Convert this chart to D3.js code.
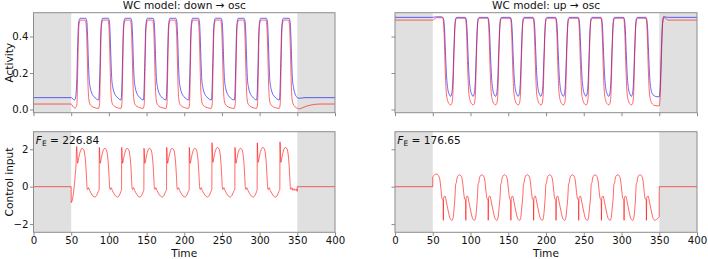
<!DOCTYPE html>
<html><head><meta charset="utf-8">
<script src="https://cdn.jsdelivr.net/npm/d3@7"></script>
<style>body{margin:0;background:#fff;} text{font-family:"DejaVu Sans",sans-serif;fill:#111;}</style>
</head><body><svg id="c" width="708" height="259"></svg>
<script>
const xTicks=[0,50,100,150,200,250,300,350,400];
const activityTicks=[0,0.2,0.4];
const controlTicks=[-2,0,2];
const titles=["WC model: down\u00A0\u2192\u00A0osc","WC model: up\u00A0\u2192\u00A0osc"];
const costs=["226.84","176.65"];
const offWindows=[[0,50],[350,400]];

const downBlue=[[0,.065],[50,.065],[51,.062],[53,.055],[54.5,.052],[56,.07],[57.3,.15],[58.3,.3],[59.3,.44],[60.5,.49],[62,.5],[69.3,.5],[70.8,.48],[71.8,.4],[72.8,.27],[73.8,.17],[75.3,.12],[77.3,.09],[80.3,.07],[83.3,.058],
[86.3,.052],[87.3,.1],[88.3,.25],[89.3,.42],[90.3,.48],[91.8,.5],[99.3,.5],[100.8,.48],[101.8,.4],[102.8,.27],[103.8,.17],[105.3,.12],[107.3,.09],[110.3,.07],[113.3,.058],
[116,.052],[117,.1],[118,.25],[119,.42],[120,.48],[121.5,.5],[129,.5],[130.5,.48],[131.5,.4],[132.5,.27],[133.5,.17],[135,.12],[137,.09],[140,.07],[143,.058],
[145.6,.052],[146.6,.1],[147.6,.25],[148.6,.42],[149.6,.48],[151.1,.5],[158.6,.5],[160.1,.48],[161.1,.4],[162.1,.27],[163.1,.17],[164.6,.12],[166.6,.09],[169.6,.07],[172.6,.058],
[175.7,.052],[176.7,.1],[177.7,.25],[178.7,.42],[179.7,.48],[181.2,.5],[188.7,.5],[190.2,.48],[191.2,.4],[192.2,.27],[193.2,.17],[194.7,.12],[196.7,.09],[199.7,.07],[202.7,.058],
[205.7,.052],[206.7,.1],[207.7,.25],[208.7,.42],[209.7,.48],[211.2,.5],[218.7,.5],[220.2,.48],[221.2,.4],[222.2,.27],[223.2,.17],[224.7,.12],[226.7,.09],[229.7,.07],[232.7,.058],
[235.8,.052],[236.8,.1],[237.8,.25],[238.8,.42],[239.8,.48],[241.3,.5],[248.8,.5],[250.3,.48],[251.3,.4],[252.3,.27],[253.3,.17],[254.8,.12],[256.8,.09],[259.8,.07],[262.8,.058],
[266.3,.052],[267.3,.1],[268.3,.25],[269.3,.42],[270.3,.48],[271.8,.5],[279.3,.5],[280.8,.48],[281.8,.4],[282.8,.27],[283.8,.17],[285.3,.12],[287.3,.09],[290.3,.07],[293.3,.058],
[295.9,.052],[296.9,.1],[297.9,.25],[298.9,.42],[299.9,.48],[301.4,.5],[308.9,.5],[310.4,.48],[311.4,.4],[312.4,.27],[313.4,.17],[314.9,.12],[316.9,.09],[319.9,.07],[322.9,.058],
[326,.052],[327,.1],[328,.25],[329,.42],[330,.48],[331.5,.5],[339,.5],[340.5,.48],[341.5,.4],[342.5,.27],[343.5,.17],[345,.12],[347,.085],[349,.07],[351,.062],[354,.062],[360,.065],[400,.065]];

const downRed=[[0,.03],[50,.03],[51,.025],[53,.013],[55,.008],[56.5,.012],[57.6,.03],[58.6,.2],[59.6,.4],[60.6,.47],[62.3,.49],[68.8,.49],[70.1,.45],[71.3,.3],[72.3,.14],[73.3,.06],[74.8,.03],[77.3,.018],[81.3,.01],
[86.3,.006],[87.6,.03],[88.6,.2],[89.6,.4],[90.6,.47],[92.3,.49],[98.8,.49],[100.1,.45],[101.3,.3],[102.3,.14],[103.3,.06],[104.8,.03],[107.3,.018],[111.3,.01],
[116,.006],[117.3,.03],[118.3,.2],[119.3,.4],[120.3,.47],[122,.49],[128.5,.49],[129.8,.45],[131,.3],[132,.14],[133,.06],[134.5,.03],[137,.018],[141,.01],
[145.6,.006],[146.9,.03],[147.9,.2],[148.9,.4],[149.9,.47],[151.6,.49],[158.1,.49],[159.4,.45],[160.6,.3],[161.6,.14],[162.6,.06],[164.1,.03],[166.6,.018],[170.6,.01],
[175.7,.006],[177,.03],[178,.2],[179,.4],[180,.47],[181.7,.49],[188.2,.49],[189.5,.45],[190.7,.3],[191.7,.14],[192.7,.06],[194.2,.03],[196.7,.018],[200.7,.01],
[205.7,.006],[207,.03],[208,.2],[209,.4],[210,.47],[211.7,.49],[218.2,.49],[219.5,.45],[220.7,.3],[221.7,.14],[222.7,.06],[224.2,.03],[226.7,.018],[230.7,.01],
[235.8,.006],[237.1,.03],[238.1,.2],[239.1,.4],[240.1,.47],[241.8,.49],[248.3,.49],[249.6,.45],[250.8,.3],[251.8,.14],[252.8,.06],[254.3,.03],[256.8,.018],[260.8,.01],
[266.3,.006],[267.6,.03],[268.6,.2],[269.6,.4],[270.6,.47],[272.3,.49],[278.8,.49],[280.1,.45],[281.3,.3],[282.3,.14],[283.3,.06],[284.8,.03],[287.3,.018],[291.3,.01],
[295.9,.006],[297.2,.03],[298.2,.2],[299.2,.4],[300.2,.47],[301.9,.49],[308.4,.49],[309.7,.45],[310.9,.3],[311.9,.14],[312.9,.06],[314.4,.03],[316.9,.018],[320.9,.01],
[326,.006],[327.3,.03],[328.3,.2],[329.3,.4],[330.3,.47],[332,.49],[338.5,.49],[339.8,.45],[341,.3],[342,.14],[343,.06],[344.5,.03],[347,.015],[350,.007],[353,.004],[356,.008],[362,.018],[370,.026],[380,.03],[400,.03]];

const upBlue=[[0,.505],[50,.505],[55,.508],[62,.508],
[64,.5],[65.5,.45],[67,.3],[68.5,.17],[70,.11],[72,.082],[73.5,.072],[75,.085],[76.5,.15],[78,.33],[79.3,.46],[80.5,.5],[82,.505],[92.8,.505],
[93.8,.5],[95.3,.45],[96.8,.3],[98.3,.17],[99.8,.11],[101.8,.082],[103.3,.072],[104.8,.085],[106.3,.15],[107.8,.33],[109.1,.46],[110.3,.5],[111.8,.505],[122.5,.505],
[123.5,.5],[125,.45],[126.5,.3],[128,.17],[129.5,.11],[131.5,.082],[133,.072],[134.5,.085],[136,.15],[137.5,.33],[138.8,.46],[140,.5],[141.5,.505],[152.5,.505],
[153.5,.5],[155,.45],[156.5,.3],[158,.17],[159.5,.11],[161.5,.082],[163,.072],[164.5,.085],[166,.15],[167.5,.33],[168.8,.46],[170,.5],[171.5,.505],[182.6,.505],
[183.6,.5],[185.1,.45],[186.6,.3],[188.1,.17],[189.6,.11],[191.6,.082],[193.1,.072],[194.6,.085],[196.1,.15],[197.6,.33],[198.9,.46],[200.1,.5],[201.6,.505],[212.3,.505],
[213.3,.5],[214.8,.45],[216.3,.3],[217.8,.17],[219.3,.11],[221.3,.082],[222.8,.072],[224.3,.085],[225.8,.15],[227.3,.33],[228.6,.46],[229.8,.5],[231.3,.505],[242.3,.505],
[243.3,.5],[244.8,.45],[246.3,.3],[247.8,.17],[249.3,.11],[251.3,.082],[252.8,.072],[254.3,.085],[255.8,.15],[257.3,.33],[258.6,.46],[259.8,.5],[261.3,.505],[272.4,.505],
[273.4,.5],[274.9,.45],[276.4,.3],[277.9,.17],[279.4,.11],[281.4,.082],[282.9,.072],[284.4,.085],[285.9,.15],[287.4,.33],[288.7,.46],[289.9,.5],[291.4,.505],[302.4,.505],
[303.4,.5],[304.9,.45],[306.4,.3],[307.9,.17],[309.4,.11],[311.4,.082],[312.9,.072],[314.4,.085],[315.9,.15],[317.4,.33],[318.7,.46],[319.9,.5],[321.4,.505],[332,.505],
[333,.5],[334.5,.45],[336,.3],[337.5,.17],[339,.11],[341,.085],[344,.074],[347,.07],[350,.07],[351.5,.15],[353,.35],[354.5,.48],[356,.51],[358,.507],[362,.505],[400,.505]];

const upRed=[[0,.49],[50,.49],[52,.495],[55,.503],[62,.503],
[63.5,.5],[65,.42],[66.5,.22],[68,.09],[70,.045],[72,.03],[73.5,.025],[75,.03],[76.5,.07],[78,.28],[79.3,.44],[80.5,.49],[82,.5],
[93.3,.5],[94.8,.42],[96.3,.22],[97.8,.09],[99.8,.045],[101.8,.03],[103.3,.025],[104.8,.03],[106.3,.07],[107.8,.28],[109.1,.44],[110.3,.49],[111.8,.5],
[123,.5],[124.5,.42],[126,.22],[127.5,.09],[129.5,.045],[131.5,.03],[133,.025],[134.5,.03],[136,.07],[137.5,.28],[138.8,.44],[140,.49],[141.5,.5],
[153,.5],[154.5,.42],[156,.22],[157.5,.09],[159.5,.045],[161.5,.03],[163,.025],[164.5,.03],[166,.07],[167.5,.28],[168.8,.44],[170,.49],[171.5,.5],
[183.1,.5],[184.6,.42],[186.1,.22],[187.6,.09],[189.6,.045],[191.6,.03],[193.1,.025],[194.6,.03],[196.1,.07],[197.6,.28],[198.9,.44],[200.1,.49],[201.6,.5],
[212.8,.5],[214.3,.42],[215.8,.22],[217.3,.09],[219.3,.045],[221.3,.03],[222.8,.025],[224.3,.03],[225.8,.07],[227.3,.28],[228.6,.44],[229.8,.49],[231.3,.5],
[242.8,.5],[244.3,.42],[245.8,.22],[247.3,.09],[249.3,.045],[251.3,.03],[252.8,.025],[254.3,.03],[255.8,.07],[257.3,.28],[258.6,.44],[259.8,.49],[261.3,.5],
[272.9,.5],[274.4,.42],[275.9,.22],[277.4,.09],[279.4,.045],[281.4,.03],[282.9,.025],[284.4,.03],[285.9,.07],[287.4,.28],[288.7,.44],[289.9,.49],[291.4,.5],
[302.9,.5],[304.4,.42],[305.9,.22],[307.4,.09],[309.4,.045],[311.4,.03],[312.9,.025],[314.4,.03],[315.9,.07],[317.4,.28],[318.7,.44],[319.9,.49],[321.4,.5],
[332.5,.5],[334,.42],[335.5,.22],[337,.09],[339,.045],[341,.03],[344,.022],[347,.02],[350,.02],[351.5,.1],[353,.3],[354.5,.47],[356,.505],[358,.5],[362,.49],[400,.49]];

const downControl=[[0,0],[50,0],[50.05,-.85],[51,-.78],[52,-.6],[53,-.35],[54,0],[55,.45],[56.3,1.1],
[57.3,2.15],[58.5,1.25],[59.8,1.5],[61.8,1.85],[64.3,2.05],[66.3,2.0],[68.1,1.7],[69.3,1.2],[70.3,.5],[71.1,-.08],[72,-.15],[73,-.05],[74.5,-.2],[76.5,-.35],[79,-.5],[81.5,-.55],[84,-.45],[86,-.25],[87.1,-.15],
[87.3,2.1],[88.5,1.25],[89.8,1.5],[91.8,1.85],[94.3,2.05],[96.3,2.0],[98.1,1.7],[99.3,1.2],[100.3,.5],[101.1,-.08],[102,-.15],[103,-.05],[104.5,-.2],[106.5,-.35],[109,-.5],[111.5,-.55],[114,-.45],[116,-.25],[116.8,-.15],
[117,2.1],[118.2,1.25],[119.5,1.5],[121.5,1.85],[124,2.05],[126,2.0],[127.8,1.7],[129,1.2],[130,.5],[130.8,-.08],[131.7,-.15],[132.7,-.05],[134.2,-.2],[136.2,-.35],[138.7,-.5],[141.2,-.55],[143.7,-.45],[145.7,-.25],[146.4,-.15],
[146.6,2.05],[147.8,1.25],[149.1,1.5],[151.1,1.85],[153.6,2.05],[155.6,2.0],[157.4,1.7],[158.6,1.2],[159.6,.5],[160.4,-.08],[161.3,-.15],[162.3,-.05],[163.8,-.2],[165.8,-.35],[168.3,-.5],[170.8,-.55],[173.3,-.45],[175.3,-.25],[176.5,-.15],
[176.7,2.1],[177.9,1.25],[179.2,1.5],[181.2,1.85],[183.7,2.05],[185.7,2.0],[187.5,1.7],[188.7,1.2],[189.7,.5],[190.5,-.08],[191.4,-.15],[192.4,-.05],[193.9,-.2],[195.9,-.35],[198.4,-.5],[200.9,-.55],[203.4,-.45],[205.4,-.25],[206.5,-.15],
[206.7,2.1],[207.9,1.25],[209.2,1.5],[211.2,1.85],[213.7,2.05],[215.7,2.0],[217.5,1.7],[218.7,1.2],[219.7,.5],[220.5,-.08],[221.4,-.15],[222.4,-.05],[223.9,-.2],[225.9,-.35],[228.4,-.5],[230.9,-.55],[233.4,-.45],[235.4,-.25],[236.6,-.15],
[236.8,2.35],[238,1.3],[239.3,1.55],[241.3,1.9],[243.8,2.1],[245.8,2.05],[247.6,1.75],[248.8,1.2],[249.8,.5],[250.6,-.08],[251.5,-.15],[252.5,-.05],[254,-.2],[256,-.35],[258.5,-.5],[261,-.55],[263.5,-.45],[265.5,-.25],[267.1,-.15],
[267.3,2.1],[268.5,1.25],[269.8,1.5],[271.8,1.85],[274.3,2.05],[276.3,2.0],[278.1,1.7],[279.3,1.2],[280.3,.5],[281.1,-.08],[282,-.15],[283,-.05],[284.5,-.2],[286.5,-.35],[289,-.5],[291.5,-.55],[294,-.45],[296,-.25],[296.7,-.15],
[296.9,2.35],[298.1,1.3],[299.4,1.55],[301.4,1.9],[303.9,2.1],[305.9,2.05],[307.7,1.75],[308.9,1.2],[309.9,.5],[310.7,-.08],[311.6,-.15],[312.6,-.05],[314.1,-.2],[316.1,-.35],[318.6,-.5],[321.1,-.55],[323.6,-.45],[325.6,-.25],[326.8,-.15],
[327,2.4],[328.2,1.3],[329.5,1.55],[331.5,1.9],[334,2.1],[336,2.05],[337.8,1.75],[339,1.2],[340,.5],[340.8,-.08],[341.7,-.15],[342.7,-.05],[344.2,-.2],[345.5,-.1],[347,-.2],[348.5,-.12],[349.9,-.25],[350,0],[400,0]];

const upControl=[[0,0],[50,0],[50.05,.5],[51.5,.6],[53.5,.66],[55.5,.67],[57.5,.6],[59.5,.35],[60.8,-.1],[62,-.6],[63.7,-.75],[64,-1.8],[64.4,-.6],[66.2,-.5],[68,-.8],[70.5,-1.3],[73,-1.7],[75.5,-1.8],[77,-1.65],[78.3,-1.15],[79.5,-.5],
[80.4,.15],[81.2,.2],[81.9,.4],[83.4,.58],[85.4,.64],[87.4,.58],[89.4,.3],[90.7,-.2],[91.9,-.6],[93.5,-.75],[93.8,-1.8],[94.2,-.6],[96,-.5],[97.8,-.8],[100.3,-1.3],[102.8,-1.7],[105.3,-1.8],[106.8,-1.65],[108.1,-1.15],[109.2,-.5],
[110.1,.15],[110.9,.2],[111.6,.4],[113.1,.58],[115.1,.64],[117.1,.58],[119.1,.3],[120.4,-.2],[121.6,-.6],[123.2,-.75],[123.5,-1.8],[123.9,-.6],[125.7,-.5],[127.5,-.8],[130,-1.3],[132.5,-1.7],[135,-1.8],[136.5,-1.65],[137.8,-1.15],[139.2,-.5],
[140.1,.15],[140.9,.2],[141.6,.4],[143.1,.58],[145.1,.64],[147.1,.58],[149.1,.3],[150.4,-.2],[151.6,-.6],[153.2,-.75],[153.5,-1.8],[153.9,-.6],[155.7,-.5],[157.5,-.8],[160,-1.3],[162.5,-1.7],[165,-1.8],[166.5,-1.65],[167.8,-1.15],[169.3,-.5],
[170.2,.15],[171,.2],[171.7,.4],[173.2,.58],[175.2,.64],[177.2,.58],[179.2,.3],[180.5,-.2],[181.7,-.6],[183.3,-.75],[183.6,-1.8],[184,-.6],[185.8,-.5],[187.6,-.8],[190.1,-1.3],[192.6,-1.7],[195.1,-1.8],[196.6,-1.65],[197.9,-1.15],[199,-.5],
[199.9,.15],[200.7,.2],[201.4,.4],[202.9,.58],[204.9,.64],[206.9,.58],[208.9,.3],[210.2,-.2],[211.4,-.6],[213,-.75],[213.3,-1.8],[213.7,-.6],[215.5,-.5],[217.3,-.8],[219.8,-1.3],[222.3,-1.7],[224.8,-1.8],[226.3,-1.65],[227.6,-1.15],[229,-.5],
[229.9,.15],[230.7,.2],[231.4,.4],[232.9,.58],[234.9,.64],[236.9,.58],[238.9,.3],[240.2,-.2],[241.4,-.6],[243,-.75],[243.3,-1.8],[243.7,-.6],[245.5,-.5],[247.3,-.8],[249.8,-1.3],[252.3,-1.7],[254.8,-1.8],[256.3,-1.65],[257.6,-1.15],[259.1,-.5],
[260,.15],[260.8,.2],[261.5,.4],[263,.58],[265,.64],[267,.58],[269,.3],[270.3,-.2],[271.5,-.6],[273.1,-.75],[273.4,-1.8],[273.8,-.6],[275.6,-.5],[277.4,-.8],[279.9,-1.3],[282.4,-1.7],[284.9,-1.8],[286.4,-1.65],[287.7,-1.15],[289.1,-.5],
[290,.15],[290.8,.2],[291.5,.4],[293,.58],[295,.64],[297,.58],[299,.3],[300.3,-.2],[301.5,-.6],[303.1,-.75],[303.4,-1.8],[303.8,-.6],[305.6,-.5],[307.4,-.8],[309.9,-1.3],[312.4,-1.7],[314.9,-1.8],[316.4,-1.65],[317.7,-1.15],[318.7,-.5],
[319.6,.15],[320.4,.2],[321.1,.4],[322.6,.58],[324.6,.64],[326.6,.58],[328.6,.3],[329.9,-.2],[331.1,-.6],[332.7,-.75],[333,-1.8],[333.4,-.6],[335.2,-.5],[337,-.8],[339.5,-1.3],[342,-1.7],[344.5,-1.8],[346.5,-1.75],[349.9,-1.6],[350,0],[400,0]];

const BLUE="rgba(0,0,255,0.6)", RED="rgba(255,0,0,0.6)", FRAME="#8c8c8c", SHADE="#e0e0e0";
const FS=10.6, TFS=10.2;
const svg=d3.select("#c");
let clipId=0;

function panel(o){
  const x=d3.scaleLinear().domain([0,400]).range([o.x0,o.x1]);
  const y=d3.scaleLinear().domain(o.ydom).range([o.y1,o.y0]);
  const g=svg.append("g");
  const cid="clip"+(clipId++);
  g.append("clipPath").attr("id",cid).append("rect")
   .attr("x",o.x0).attr("y",o.y0).attr("width",o.x1-o.x0).attr("height",o.y1-o.y0);
  const inner=g.append("g").attr("clip-path",`url(#${cid})`);
  inner.selectAll("rect.sh").data(offWindows).join("rect").attr("class","sh")
   .attr("x",d=>x(d[0])).attr("width",d=>x(d[1])-x(d[0]))
   .attr("y",o.y0).attr("height",o.y1-o.y0).attr("fill",SHADE);
  const line=d3.line().x(d=>x(d[0])).y(d=>y(d[1])).curve(d3.curveMonotoneX);
  o.series.forEach(s=>{
    inner.append("path").attr("d",line(s.data)).attr("fill","none")
     .attr("stroke",s.color).attr("stroke-width",1);
  });
  const ax=g.append("g").attr("transform",`translate(0,${o.y1})`)
    .call(d3.axisBottom(x).tickValues(xTicks).tickSize(3.5).tickPadding(1)
      .tickFormat(o.xlabels?d3.format("d"):()=>""));
  const ay=g.append("g").attr("transform",`translate(${o.x0},0)`)
    .call(d3.axisLeft(y).tickValues(o.yticks).tickSize(3.5).tickPadding(1.5)
      .tickFormat(o.ylabels?o.yfmt:()=>""));
  [ax,ay].forEach(a=>{
    a.select(".domain").remove();
    a.selectAll(".tick line").attr("stroke",FRAME);
    a.selectAll(".tick text").attr("font-size",TFS).attr("font-family","DejaVu Sans").attr("fill","#111");
  });
  g.append("rect").attr("x",o.x0).attr("y",o.y0).attr("width",o.x1-o.x0).attr("height",o.y1-o.y0)
   .attr("fill","none").attr("stroke",FRAME).attr("stroke-width",1);
  if(o.title) g.append("text").attr("x",(o.x0+o.x1)/2).attr("y",9.3).attr("text-anchor","middle")
     .attr("font-size",FS).text(o.title);
  if(o.ylabel) g.append("text").attr("transform",`translate(12.5,${(o.y0+o.y1)/2}) rotate(-90)`)
     .attr("text-anchor","middle").attr("font-size",FS).text(o.ylabel);
  if(o.xlabel) g.append("text").attr("x",(o.x0+o.x1)/2).attr("y",256.8).attr("text-anchor","middle")
     .attr("font-size",FS).text(o.xlabel);
  if(o.cost){
    const t=g.append("text").attr("x",o.x0+2.3).attr("y",o.y0+11.8).attr("font-size",FS);
    t.append("tspan").attr("font-style","italic").text("F");
    t.append("tspan").attr("font-size",7.5).attr("dy",2).text("E");
    t.append("tspan").attr("dy",-2).text(" = "+o.cost);
  }
}

const L={x0:33.5,x1:335}, R={x0:395,x1:697};
const TOP={y0:12.7,y1:112.7,ydom:[-0.0175,0.5305]}, BOT={y0:131.7,y1:232.3,ydom:[-2.439,2.941]};
const f1=d3.format(".1f"), f0=d3.format("d");

panel({...L,...TOP,series:[{data:downBlue,color:BLUE},{data:downRed,color:RED}],yticks:activityTicks,ylabels:true,yfmt:f1,xlabels:false,title:titles[0],ylabel:"Activity"});
panel({...R,...TOP,series:[{data:upBlue,color:BLUE},{data:upRed,color:RED}],yticks:activityTicks,ylabels:false,xlabels:false,title:titles[1]});
panel({...L,...BOT,series:[{data:downControl,color:RED}],yticks:controlTicks,ylabels:true,yfmt:f0,xlabels:true,ylabel:"Control input",xlabel:"Time",cost:costs[0]});
panel({...R,...BOT,series:[{data:upControl,color:RED}],yticks:controlTicks,ylabels:false,xlabels:true,xlabel:"Time",cost:costs[1]});
</script></body></html>
